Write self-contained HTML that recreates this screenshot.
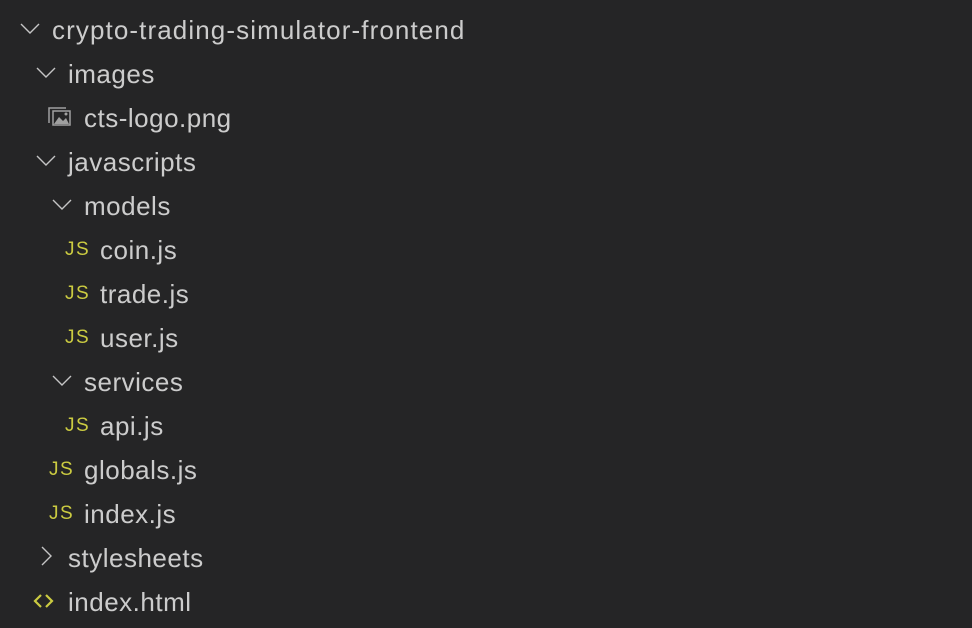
<!DOCTYPE html>
<html><head><meta charset="utf-8"><style>
html,body{margin:0;padding:0;background:#252526;width:972px;height:628px;overflow:hidden}
.r{position:absolute;height:44px;line-height:44px;font-family:"Liberation Sans",sans-serif;font-size:26px;letter-spacing:0.5px;color:#cccccc;white-space:nowrap}
.js{position:absolute;font-family:"Liberation Sans",sans-serif;font-size:19px;color:#cbcb41;line-height:44px;letter-spacing:1.5px}
svg.c{position:absolute}
</style></head><body>
<svg class="c" width="972" height="628" style="left:0;top:0">
<g fill="none" stroke="#c5c5c5" stroke-width="1.4">
<polyline points="21,24 30,33 39,24"/>
<polyline points="37,68 46,77 55,68"/>
<polyline points="37,156 46,165 55,156"/>
<polyline points="53,200 62,209 71,200"/>
<polyline points="53,376 62,385 71,376"/>
<polyline points="42,547 51,556 42,565"/>
</g>
<g fill="none" stroke="#a0a0a0" stroke-width="1.5">
<rect x="53" y="111" width="17" height="14"/>
<polyline points="49,123 49,108 66,108"/>
</g>
<polygon points="54,124 59,117 63,121 66,118 69,124" fill="#a0a0a0"/>
<circle cx="66" cy="114" r="1.5" fill="#a0a0a0"/>
<g fill="none" stroke="#cbcb41" stroke-width="2.2">
<polyline points="41,595 35,601 41,607"/>
<polyline points="46,595 52,601 46,607"/>
</g>
</svg>
<div class="r" style="left:52px;top:8px;letter-spacing:1.1px">crypto-trading-simulator-frontend</div>
<div class="r" style="left:68px;top:52px">images</div>
<div class="r" style="left:84px;top:96px">cts-logo.png</div>
<div class="r" style="left:68px;top:140px">javascripts</div>
<div class="r" style="left:84px;top:184px">models</div>
<div class="js" style="left:65px;top:228px">JS</div><div class="r" style="left:100px;top:228px">coin.js</div>
<div class="js" style="left:65px;top:272px">JS</div><div class="r" style="left:100px;top:272px">trade.js</div>
<div class="js" style="left:65px;top:316px">JS</div><div class="r" style="left:100px;top:316px">user.js</div>
<div class="r" style="left:84px;top:360px">services</div>
<div class="js" style="left:65px;top:404px">JS</div><div class="r" style="left:100px;top:404px">api.js</div>
<div class="js" style="left:49px;top:448px">JS</div><div class="r" style="left:84px;top:448px">globals.js</div>
<div class="js" style="left:49px;top:492px">JS</div><div class="r" style="left:84px;top:492px">index.js</div>
<div class="r" style="left:68px;top:536px">stylesheets</div>
<div class="r" style="left:68px;top:580px">index.html</div>
</body></html>
